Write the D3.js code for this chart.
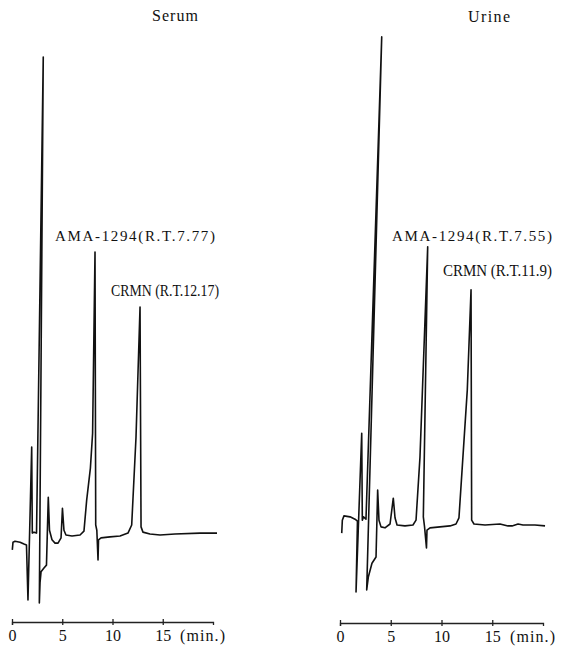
<!DOCTYPE html>
<html>
<head>
<meta charset="utf-8">
<script src="https://cdn.jsdelivr.net/npm/d3@7"></script>
<style>
  body { margin: 0; background: #fff; }
  svg text { font-family: "Liberation Serif", "DejaVu Serif", serif; fill: #111; }
</style>
</head>
<body>
<div id="chart"></div>
<script>
// chromatogram traces (time in min, relative response)
const serumTime = [0.03, 0.10, 0.30, 0.80, 1.19, 1.44, 1.59, 1.96, 2.02, 2.19, 2.44, 3.11, 2.72, 2.79, 2.89, 3.18, 3.43, 3.61, 3.73, 3.98, 4.28, 4.58, 4.88, 5.02, 5.17, 5.37, 5.97, 6.77, 7.16, 7.43, 7.80, 8.02, 8.26, 8.33, 8.44, 8.56, 8.61, 8.86, 9.75, 10.75, 11.54, 11.91, 12.34, 12.74, 12.84, 13.03, 13.73, 14.73, 16.22, 18.71, 20.4]
const serumSignal = [-3.1, -1.5, -1.3, -1.5, -1.9, -2.1, -13.6, 18.4, 0.4, 0.6, 0.4, 100, -14.2, -10, -7.7, -6.9, -6.3, 7.9, 1, -1, -1.7, -1.7, -0.6, 5.6, 1, 0, -0.2, 0, 0.8, 7.3, 14.0, 21.3, 59.2, 2.1, 1, -5.2, -1, -0.6, -0.4, -0.2, 0.4, 2.1, 20.5, 47.7, 1.7, 0.6, 0.2, 0, 0.2, 0.4, 0.4]

const urineTime = [0.17, 0.23, 0.39, 0.99, 1.48, 1.72, 1.58, 2.14, 2.20, 2.32, 2.56, 4.11, 2.63, 2.79, 3.15, 3.55, 3.71, 3.84, 4.04, 4.43, 4.93, 5.25, 5.42, 5.62, 6.40, 7.19, 7.49, 7.88, 8.64, 8.21, 8.33, 8.52, 8.57, 8.87, 9.85, 10.84, 11.43, 11.72, 12.54, 12.91, 12.97, 13.20, 14.29, 15.76, 16.55, 16.95, 17.54, 18.03, 19.21, 20.2]
const urineSignal = [0.4, 3.1, 4.0, 3.8, 3.3, 2.9, -11.9, 21.3, 3.1, 3.8, 3.3, 104.2, -11.5, -8.8, -5.9, -4.6, 9.4, 3.1, 1.7, 1.5, 2.3, 7.7, 3.6, 2.1, 1.9, 2.1, 3.1, 16.3, 60.3, 3.8, 1.7, -2.7, 1.0, 1.5, 1.7, 1.9, 2.3, 3.6, 30.3, 51.3, 3.1, 2.3, 2.1, 2.3, 1.9, 1.9, 2.3, 2.1, 2.1, 1.9]

const panelTitles = ["Serum", "Urine"]
const amaLabels = ["AMA-1294(R.T.7.77)", "AMA-1294(R.T.7.55)"]
const crmnLabels = ["CRMN (R.T.12.17)", "CRMN (R.T.11.9)"]
const tickValues = [0, 5, 10, 15]

const width = 579, height = 646
const svg = d3.select("#chart").append("svg")
    .attr("width", width)
    .attr("height", height)

// shared vertical scale
const y = d3.scaleLinear().domain([0, 100]).range([535, 57])

const panels = [
    { time: serumTime, signal: serumSignal, x0: 12, x1: 213, axisY: 622,
      title: [175, 21, 46], ama: [55, 241, 160], crmn: [111, 296, 108], minX: 180 },
    { time: urineTime, signal: urineSignal, x0: 340, x1: 543, axisY: 623,
      title: [489, 22, 42], ama: [392, 241, 160], crmn: [443, 276, 109], minX: 510 }
]

panels.forEach((p, i) => {
    const x = d3.scaleLinear().domain([0, 20]).range([p.x0, p.x1])
    const g = svg.append("g")

    //trace
    const pts = p.time.map((t, k) => [t, p.signal[k]])
    g.append("path")
        .datum(pts)
        .attr("fill", "none")
        .attr("stroke", "#111")
        .attr("stroke-width", 1.6)
        .attr("stroke-linejoin", "round")
        .attr("d", d3.line().x(d => x(d[0])).y(d => y(d[1])))

    //time axis
    const axis = g.append("g")
        .attr("transform", `translate(0,${p.axisY})`)
        .call(d3.axisBottom(x).tickValues(tickValues).tickSizeOuter(0).tickSize(3))
    axis.select(".domain").attr("stroke", "#222").attr("stroke-width", 1.3)
    axis.selectAll(".tick line").attr("y1", -3).attr("y2", 3).attr("stroke", "#222").attr("stroke-width", 1.3)
    axis.selectAll(".tick text")
        .attr("y", 19).attr("dy", 0)
        .style("font-size", "16px")
        .style("font-family", "'Liberation Serif', serif")
        .attr("fill", "#111")

    g.append("text")
        .attr("x", p.minX).attr("y", p.axisY + 19)
        .attr("textLength", 45).attr("lengthAdjust", "spacing")
        .style("font-size", "16px")
        .text("(min.)")

    g.append("text")
        .attr("x", p.title[0] - p.title[2] / 2).attr("y", p.title[1])
        .attr("textLength", p.title[2]).attr("lengthAdjust", "spacing")
        .style("font-size", "16px")
        .text(panelTitles[i])

    g.append("text")
        .attr("x", p.ama[0]).attr("y", p.ama[1])
        .attr("textLength", p.ama[2]).attr("lengthAdjust", "spacing")
        .style("font-size", "15px")
        .text(amaLabels[i])

    g.append("text")
        .attr("x", p.crmn[0]).attr("y", p.crmn[1])
        .attr("textLength", p.crmn[2]).attr("lengthAdjust", "spacingAndGlyphs")
        .style("font-size", "16px")
        .text(crmnLabels[i])
})
</script>
</body>
</html>
